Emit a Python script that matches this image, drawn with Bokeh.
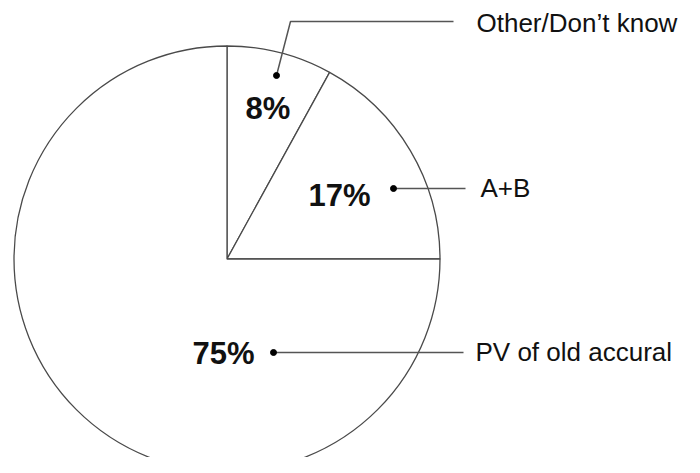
import numpy as np
from bokeh.plotting import figure
from bokeh.models import Range1d, ColumnDataSource
from bokeh.core.properties import value
from bokeh.embed import file_html
from bokeh.resources import INLINE

# ---- data ----
categories = ["Other/Don\u2019t know", "A+B", "PV of old accural"]
shares = [8, 17, 75]

# ---- layout (reference pixel coords from top-left, converted below) ----
W, H = 684, 457


def Y(py):
    return H - py


cx, cy, r = 226.5, Y(258.5), 213.0

pct_x = [245, 308, 192]
pct_base = [108, 195, 353]
lab_x = [476, 480, 475]
lab_base = [22, 187, 351]
lead_xs = [[276, 290, 453], [393, 465], [273, 463]]
lead_ys = [[75, 21, 21], [188, 188], [352, 352]]

p = figure(width=W, height=H, x_range=Range1d(0, W), y_range=Range1d(0, H),
           output_backend="svg", toolbar_location=None, min_border=0,
           x_axis_type=None, y_axis_type=None)
p.grid.visible = False
p.outline_line_color = None
p.background_fill_color = "white"
p.border_fill_color = "white"

frac = np.array(shares, dtype=float) / sum(shares)
cum = np.concatenate([[0.0], np.cumsum(frac)])
start = np.pi / 2 - 2 * np.pi * cum[:-1]
end = np.pi / 2 - 2 * np.pi * cum[1:]

wsrc = ColumnDataSource(dict(start=start, end=end, cat=categories))
p.wedge(x=cx, y=cy, radius=r, start_angle="start", end_angle="end", direction="clock",
        source=wsrc, fill_color="white", line_color="#4a4a4a", line_width=1.3)

# leader lines and dots
p.multi_line(xs=lead_xs, ys=[[Y(v) for v in ys] for ys in lead_ys],
             line_color="#555555", line_width=1.5)
p.scatter(x=[xs[0] for xs in lead_xs], y=[Y(ys[0]) for ys in lead_ys],
          size=6, color="black")

# percentage labels
psrc = ColumnDataSource(dict(x=pct_x, y=[Y(v) for v in pct_base],
                             t=[f"{s}%" for s in shares]))
p.text(x="x", y="y", text="t", source=psrc, text_font=value("Liberation Sans"),
       text_font_size="31px", text_font_style="bold", text_color="#111111",
       text_align="left", text_baseline="alphabetic")

# category labels
lsrc = ColumnDataSource(dict(x=lab_x, y=[Y(v) for v in lab_base], t=categories))
p.text(x="x", y="y", text="t", source=lsrc, text_font=value("Liberation Sans"),
       text_font_size="26px", text_color="#111111",
       text_align="left", text_baseline="alphabetic")

open("out.html", "w").write(file_html(p, INLINE))
